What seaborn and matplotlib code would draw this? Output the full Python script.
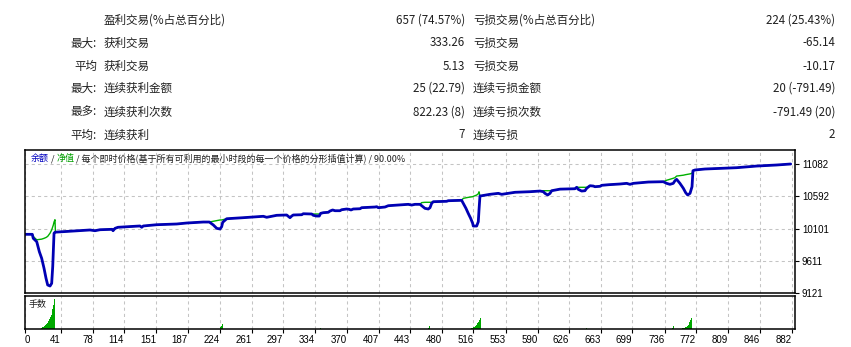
import numpy as np
import pandas as pd
import matplotlib
matplotlib.use("Agg")
import matplotlib.pyplot as plt
import seaborn as sns
from matplotlib.offsetbox import TextArea, HPacker, AnchoredOffsetbox

# ---------------- data ----------------
stat_left_prefix = ["", "最大:", "平均", "最大:", "最多:", "平均:"]
stat_left_label = ["盈利交易(%占总百分比)", "获利交易", "获利交易", "连续获利金额", "连续获利次数", "连续获利"]
stat_left_value = ["657 (74.57%)", "333.26", "5.13", "25 (22.79)", "822.23 (8)", "7"]
stat_right_label = ["亏损交易(%占总百分比)", "亏损交易", "亏损交易", "连续亏损金额", "连续亏损次数", "连续亏损"]
stat_right_value = ["224 (25.43%)", "-65.14", "-10.17", "20 (-791.49)", "-791.49 (20)", "2"]

trade = [0, 8.4, 9.5, 13.5, 16.5, 19.2, 21.9, 24.2, 26.1, 28.8, 30.7, 31.9, 32.6, 33.4, 34.5, 35.0,
         74.8, 80.5, 86.3, 100.1, 101.3, 103.6, 107.0, 132.3, 134.3, 136.1, 151.5, 174.5, 186.1,
         205.2, 212.1, 216.7, 220.6, 224.4, 226.3, 227.5, 232.1, 251.2, 274.2, 278.1, 289.6, 301.1,
         304.9, 306.9, 308.7, 318.4, 320.2, 329.9, 331.7, 335.6, 338.6, 340.2, 343.2, 349.0, 350.9,
         354.0, 356.7, 362.4, 364.4, 370.1, 373.1, 375.1, 377.7, 385.5, 387.4, 402.7, 404.7, 406.5,
         414.2, 418.0, 441.0, 444.9, 448.7, 454.5, 456.4, 460.2, 464.0, 466.0, 467.9, 469.8, 485.2,
         487.0, 502.4, 504.3, 507.4, 510.0, 512.8, 515.1, 515.8, 519.7, 521.6, 522.4, 523.5, 535.0,
         544.6, 548.5, 563.8, 581.1, 592.6, 596.4, 598.3, 601.4, 604.1, 606.0, 615.6, 632.8, 634.8,
         636.6, 640.5, 644.3, 646.3, 650.1, 653.9, 655.8, 661.6, 663.6, 671.2, 684.6, 692.3, 696.1,
         700.0, 717.2, 734.4, 738.3, 742.1, 745.9, 747.9, 749.8, 753.6, 757.5, 760.2, 762.5, 765.2,
         767.5, 768.6, 770.9, 782.4, 799.7, 818.9, 841.9, 864.9, 881]

balance = [10013, 10013, 9952, 9901, 9749, 9648, 9496, 9344, 9243, 9227, 9268, 9521, 9775, 10029, 10044, 10046,
           10079, 10068, 10083, 10089, 10068, 10104, 10120, 10140, 10120, 10140, 10159, 10170, 10185,
           10200, 10200, 10155, 10104, 10094, 10129, 10196, 10250, 10266, 10287, 10272, 10302, 10307,
           10266, 10291, 10307, 10311, 10326, 10322, 10302, 10291, 10291, 10332, 10342, 10348, 10367,
           10383, 10372, 10372, 10387, 10398, 10393, 10383, 10398, 10402, 10418, 10428, 10433, 10418,
           10428, 10448, 10469, 10458, 10469, 10469, 10448, 10408, 10398, 10418, 10484, 10509, 10515,
           10524, 10530, 10484, 10408, 10332, 10256, 10180, 10139, 10139, 10205, 10383, 10595, 10621,
           10636, 10621, 10652, 10661, 10671, 10661, 10636, 10611, 10636, 10676, 10700, 10706, 10728,
           10697, 10671, 10676, 10713, 10752, 10747, 10737, 10743, 10758, 10767, 10778, 10788, 10773,
           10788, 10808, 10813, 10788, 10773, 10788, 10828, 10849, 10788, 10713, 10646, 10611, 10636,
           10737, 10980, 10991, 11006, 11016, 11026, 11051, 11067, 11082]

equity = [10013, 10013, 9980, 9930, 9935, 9940, 9952, 9965, 9982, 10030, 10080, 10130, 10155, 10200, 10235, 10046,
          10079, 10068, 10083, 10089, 10068, 10104, 10120, 10140, 10120, 10140, 10159, 10170, 10185,
          10200, 10200, 10212, 10222, 10231, 10231, 10235, 10250, 10266, 10287, 10272, 10302, 10307,
          10266, 10291, 10307, 10311, 10326, 10322, 10322, 10322, 10322, 10332, 10342, 10348, 10367,
          10383, 10372, 10372, 10387, 10398, 10393, 10383, 10398, 10402, 10418, 10428, 10433, 10418,
          10428, 10448, 10469, 10458, 10469, 10469, 10495, 10500, 10500, 10500, 10500, 10509, 10515,
          10524, 10530, 10560, 10568, 10575, 10580, 10585, 10590, 10610, 10630, 10660, 10595, 10621,
          10636, 10621, 10652, 10661, 10671, 10676, 10676, 10676, 10676, 10676, 10700, 10706, 10728,
          10728, 10728, 10728, 10728, 10752, 10747, 10737, 10743, 10758, 10767, 10778, 10788, 10773,
          10788, 10808, 10813, 10835, 10850, 10865, 10875, 10899, 10905, 10912, 10920, 10925, 10932,
          10940, 10980, 10991, 11006, 11016, 11026, 11051, 11067, 11082]

vol_trade = [19, 20, 21, 22, 23, 24, 25, 26, 27, 28, 29, 30, 31, 32, 33, 34,
             225, 226, 227, 340, 464, 465,
             514, 515, 516, 517, 518, 519, 520, 521, 522, 523, 524,
             603, 646, 745, 746,
             757, 758, 759, 760, 761, 762, 763, 764, 765, 766, 767]
vol_lots = [0.03, 0.05, 0.06, 0.08, 0.10, 0.13, 0.16, 0.19, 0.23, 0.29, 0.35, 0.42, 0.50, 0.60, 0.72, 0.90,
            0.05, 0.10, 0.14, 0.04, 0.04, 0.08,
            0.03, 0.04, 0.05, 0.06, 0.08, 0.10, 0.13, 0.17, 0.22, 0.27, 0.32,
            0.04, 0.03, 0.04, 0.08,
            0.02, 0.03, 0.04, 0.05, 0.07, 0.09, 0.12, 0.16, 0.21, 0.26, 0.32]

x_ticks = [0, 41, 78, 114, 151, 187, 224, 261, 297, 334, 370, 407, 443, 480, 516, 553,
           590, 626, 663, 699, 736, 772, 809, 846, 882]
y_ticks = [9121, 9611, 10101, 10592, 11082]

title_parts = ["余额", " / ", "净值", " / 每个即时价格(基于所有可利用的最小时段的每一个价格的分形插值计算) / 90.00%"]

# ---------------- style ----------------
sns.set_style("white")
plt.rcParams["font.family"] = ["Noto Sans CJK SC", "DejaVu Sans"]

W, H = 851, 347
fig = plt.figure(figsize=(W / 100, H / 100), dpi=100)


def fx(px):
    return px / W


def fy(py):
    return 1 - py / H


# ---------------- statistics table ----------------
rows_y = [20, 43, 66, 88, 112, 135]
fs_tab = 8.3
for i, yy in enumerate(rows_y):
    fig.text(fx(97), fy(yy), stat_left_prefix[i], ha="right", va="center", fontsize=fs_tab, color="#202020")
    fig.text(fx(104), fy(yy), stat_left_label[i], ha="left", va="center", fontsize=fs_tab, color="#202020")
    fig.text(fx(465), fy(yy), stat_left_value[i], ha="right", va="center", fontsize=fs_tab, color="#202020")
    fig.text(fx(473), fy(yy), stat_right_label[i], ha="left", va="center", fontsize=fs_tab, color="#202020")
    fig.text(fx(835), fy(yy), stat_right_value[i], ha="right", va="center", fontsize=fs_tab, color="#202020")

# ---------------- axes ----------------
ax = fig.add_axes([fx(25), fy(293), (795 - 25) / W, (293 - 150) / H])
ax2 = fig.add_axes([fx(25), fy(329), (795 - 25) / W, (329 - 296) / H])

df = pd.DataFrame({"trade": trade, "balance": balance, "equity": equity})
sns.lineplot(data=df, x="trade", y="equity", color="#00B000", lw=1.0, ax=ax,
             estimator=None, sort=False)
sns.lineplot(data=df, x="trade", y="balance", color="#0000B4", lw=2.0, ax=ax,
             estimator=None, sort=False)

ax.set_xlim(0, 886)
ax.set_ylim(9121, 11295)
ax.set_xticks(x_ticks)
ax.set_yticks(y_ticks)
ax.yaxis.tick_right()
ax.set_yticklabels([str(v) for v in y_ticks], family=["Liberation Sans", "DejaVu Sans"], fontsize=7)
ax.tick_params(axis="y", right=True, length=3, width=0.8, pad=2, colors="black")
ax.tick_params(axis="x", bottom=False, labelbottom=False, length=0)
ax.grid(True, ls=(0, (3, 3)), color="#c4c4c4", lw=0.75)
ax.set_xlabel("")
ax.set_ylabel("")
for s in ax.spines.values():
    s.set_visible(True)
    s.set_color("black")
    s.set_linewidth(1.1)

# title line made of coloured pieces
colors = ["#0000C0", "#202020", "#00A000", "#202020"]
areas = [TextArea(t, textprops=dict(color=c, fontsize=6.5)) for t, c in zip(title_parts, colors)]
box = HPacker(children=areas, align="baseline", pad=0, sep=0)
anch = AnchoredOffsetbox(loc="upper left", child=box, pad=0.0, borderpad=0.25, frameon=False,
                         bbox_to_anchor=(0.003, 1.0), bbox_transform=ax.transAxes)
ax.add_artist(anch)

# volume panel
vdf = pd.DataFrame({"trade": vol_trade, "lots": vol_lots})
sns.histplot(data=vdf, x="trade", weights="lots", discrete=True, ax=ax2,
             color="#00A800", alpha=1.0, linewidth=0, edgecolor=None, shrink=1.0)
ax2.set_xlim(0, 886)
ax2.set_ylim(0, 1.0)
ax2.set_yticks([])
ax2.set_xticks(x_ticks)
ax2.set_xticklabels([str(v) for v in x_ticks], family=["Liberation Sans", "DejaVu Sans"], fontsize=7)
for i, lab in enumerate(ax2.get_xticklabels()):
    lab.set_ha("left" if i == 0 else "right")
ax2.tick_params(axis="x", bottom=True, length=3, width=0.8, pad=1, colors="black")
ax2.grid(True, axis="x", ls=(0, (3, 3)), color="#c4c4c4", lw=0.75)
ax2.grid(False, axis="y")
ax2.set_xlabel("")
ax2.set_ylabel("")
for s in ax2.spines.values():
    s.set_visible(True)
    s.set_color("black")
    s.set_linewidth(1.1)
ax2.text(0.004, 0.88, "手数", transform=ax2.transAxes, ha="left", va="top", fontsize=6.5, color="#202020")

fig.savefig("out.png", dpi=100)
